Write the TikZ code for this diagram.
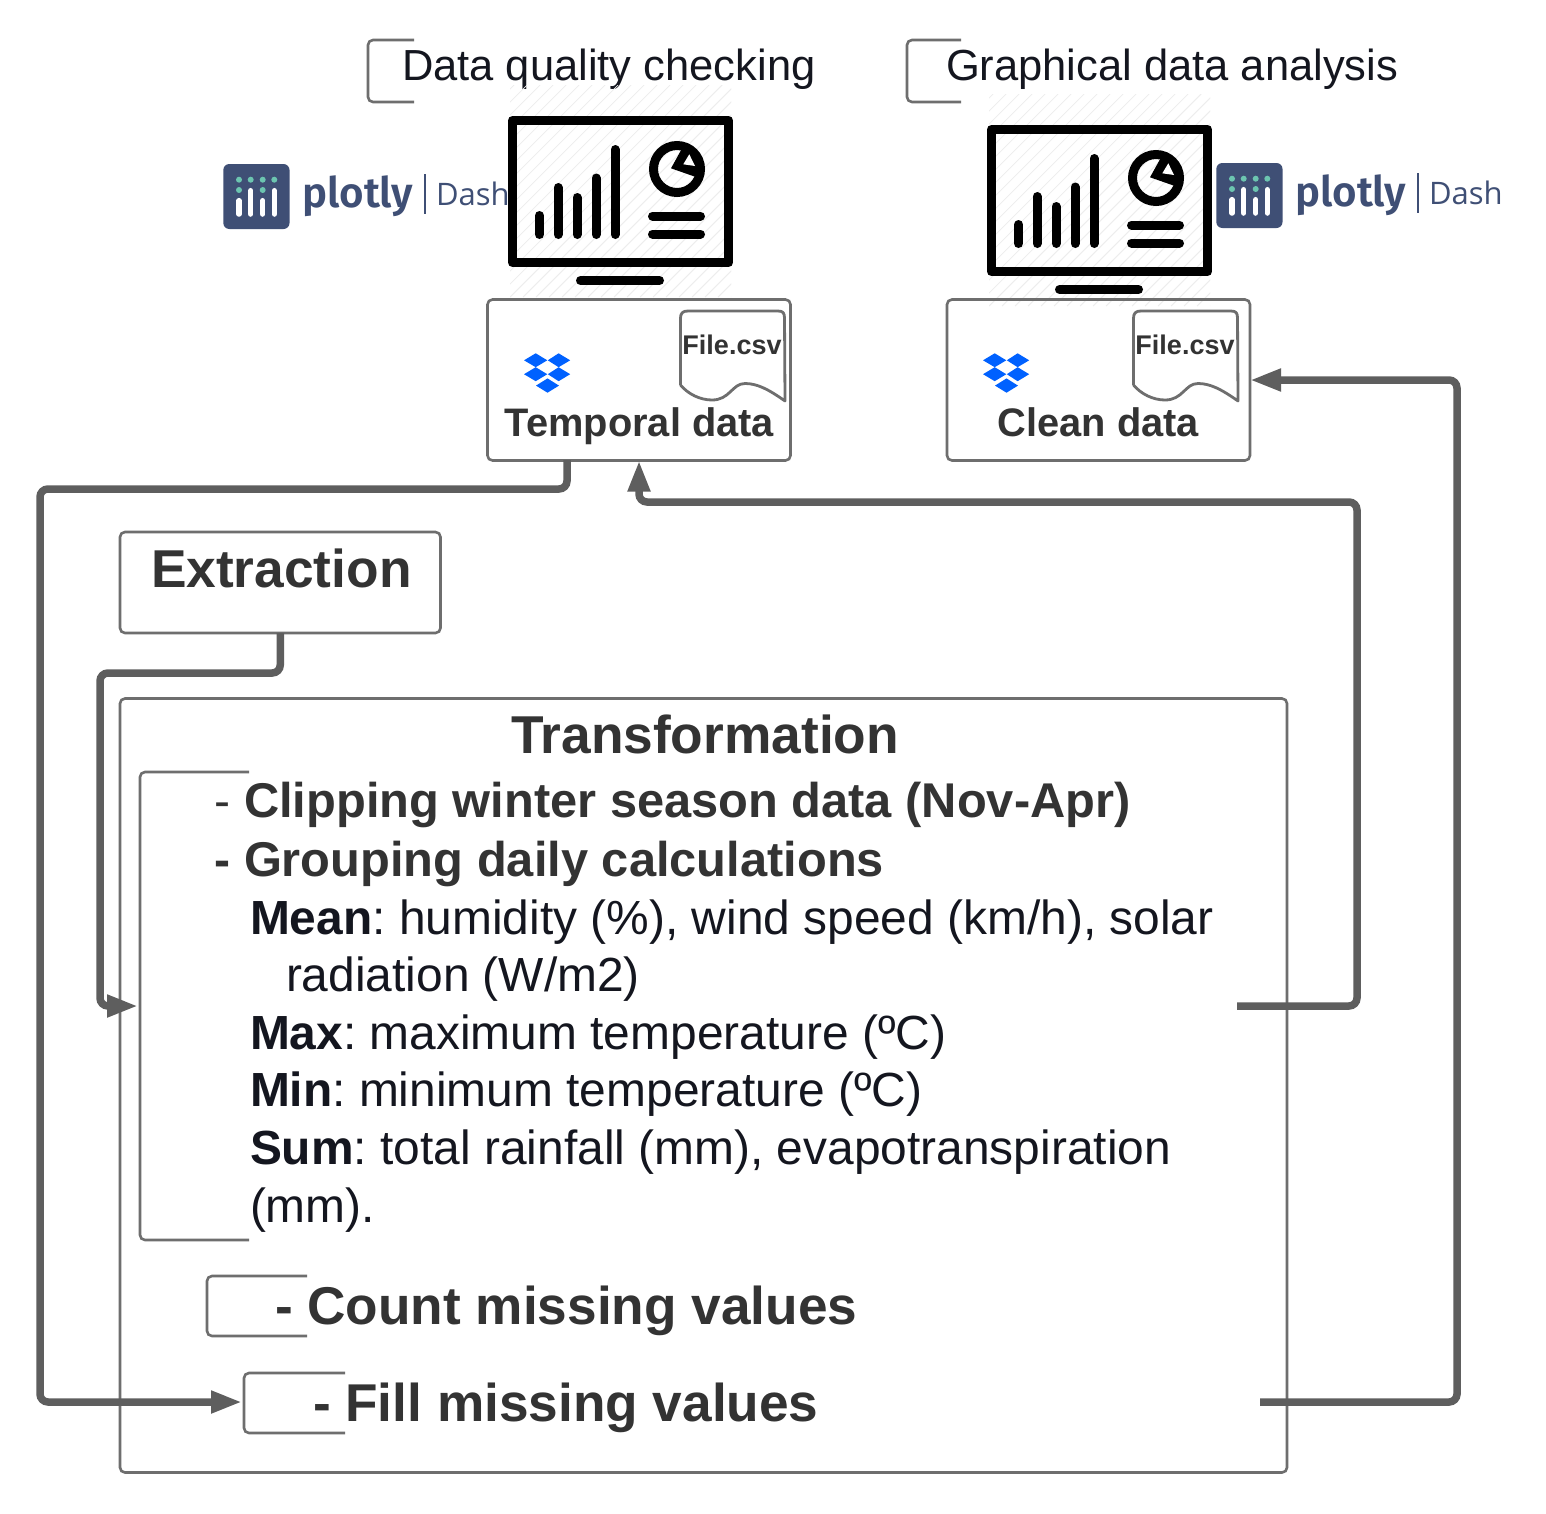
\documentclass[tikz,border=0pt]{standalone}
\usepackage{fontspec}
\setmainfont{Liberation Sans}
\newfontfamily\plotfont{Fira Sans SemiBold}
\newfontfamily\dashfont{Open Sans}
\usetikzlibrary{arrows.meta}
\definecolor{linegray}{HTML}{5E5E5E}
\definecolor{boxgray}{HTML}{6E6E6E}
\definecolor{headtxt}{HTML}{333333}
\definecolor{bodytxt}{HTML}{14161F}
\definecolor{plotblue}{HTML}{3F4F75}
\definecolor{plotgreen}{HTML}{6CC5B0}
\definecolor{dropblue}{HTML}{0061FF}
\newcommand{\fsz}[1]{\fontsize{#1}{#1}\selectfont\frenchspacing}
\tikzset{
  x=1pt,y=-1pt,
  boxnode/.style={draw=boxgray,line width=2.6pt,rounded corners=5pt,anchor=north west,inner sep=0,outer sep=0},
  bracketline/.style={draw=boxgray,line width=2.6pt,rounded corners=5pt},
  conn/.style={draw=linegray,line width=7.5pt,rounded corners=8pt},
  connarrow/.style={conn,-{Triangle[length=31pt,width=21pt]}},
  txt/.style={anchor=base west,inner sep=0,outer sep=0},
  ctxt/.style={anchor=base,inner sep=0,outer sep=0},
  titletxt/.style={txt,text=bodytxt,font=\fsz{43.5}},
  headtext/.style={txt,text=headtxt,font=\bfseries\fsz{53.3}},
  itemtext/.style={txt,text=headtxt,font=\bfseries\fsz{48.8}},
  lowertext/.style={txt,text=headtxt,font=\bfseries\fsz{53.2}},
  bodytext/.style={txt,text=bodytxt,font=\fsz{47.9}},
  datatext/.style={ctxt,text=headtxt,font=\bfseries\fsz{39.8}},
  filetext/.style={ctxt,text=headtxt,font=\bfseries\fsz{27}},
  barline/.style={black,line width=9pt,line cap=round},
}
\newcommand{\monitor}[2]{%
\begin{scope}[shift={(#1,#2)}]
  \begin{scope}
    \clip (510,85) rectangle (731,297);
    \foreach \k in {0,13,...,440}{\draw[black!7,line width=.7pt] (510+\k,297) -- (510+\k+212,85);\draw[black!7,line width=.7pt] (510+\k-221,297) -- (510+\k-221+212,85);}
  \end{scope}
  \draw[black,line width=9pt,line join=round] (512.5,120.5) rectangle (728.5,262.5);
  \draw[black,line width=9pt,line cap=round] (580.5,280.5) -- (659.5,280.5);
  \draw[barline] (539.5,215.5) -- (539.5,234.5);
  \draw[barline] (558,187.5) -- (558,234.5);
  \draw[barline] (577,197.5) -- (577,234.5);
  \draw[barline] (596,178) -- (596,234.5);
  \draw[barline] (615,149.5) -- (615,234.5);
  \draw[black,line width=9pt] (677,169) circle (23.5);
  \fill[black] (671,168.3) -- (681.7,149) -- (697,152) -- (700,177) -- (695,176.7) -- cycle;
  \fill[white] (689.3,154.3) -- (695,166) -- (683.3,164.3) -- cycle;
  \draw[barline] (652.5,216) -- (700.5,216);
  \draw[barline] (652.5,234) -- (700.5,234);
\end{scope}}
\newcommand{\filedoc}[1]{%
\begin{scope}[shift={(#1,0)}]
  \draw[boxgray,line width=2.8pt,line join=round] (680.5,385) -- (680.5,318) .. controls (680.5,313) and (683,311) .. (688,311) -- (778,311) .. controls (783,311) and (784.5,313) .. (784.5,318) -- (785,401)
   .. controls (768,389) and (757,383.5) .. (745,383.5) .. controls (732,383.5) and (730,400) .. (712,400) .. controls (700,400) and (688,394) .. (680.5,385);
\end{scope}}
\newcommand{\dropbox}[1]{%
\begin{scope}[shift={(#1,0)}]
  \fill[dropblue] (535.7,353.3) -- (547.3,360.3) -- (535.7,367.2) -- (524,360.3) -- cycle;
  \fill[dropblue] (558.6,353.3) -- (570.2,360.3) -- (558.6,367.2) -- (547.8,360.3) -- cycle;
  \fill[dropblue] (535.7,367.2) -- (547.3,374.2) -- (535.7,381.2) -- (524,374.2) -- cycle;
  \fill[dropblue] (558.6,367.2) -- (570.2,374.2) -- (558.6,381.2) -- (547.8,374.2) -- cycle;
  \fill[dropblue] (547.5,378.4) -- (559,385.6) -- (547.5,392.7) -- (536,385.6) -- cycle;
\end{scope}}
\newcommand{\plotlylogo}[3]{%
\begin{scope}[shift={(#1,#2)}]
  \fill[plotblue,rounded corners=6pt] (223.3,164) rectangle (289.5,229);
  \foreach \px in {239,250.7,262.7,274.3}{\fill[plotgreen] (\px,179.7) circle (3);}
  \foreach \px in {239,262.7}{\fill[plotgreen] (\px,190) circle (3);}
  \foreach \px/\py in {239/200.7,250.7/190.7,262.7/200.7,274.3/190.7}{\draw[white,line width=5.5pt,line cap=round] (\px,\py) -- (\px,214);}
  \node[txt,text=plotblue,font=\plotfont\fsz{42}] (#3p) at (302.5,207) {plotly};
  \draw[plotblue,line width=1.8pt] (425,174) -- (425,214);
  \node[txt,text=plotblue,font=\dashfont\fsz{31}] (#3d) at (436,205) {Dash};
\end{scope}}
\begin{document}
\begin{tikzpicture}
\useasboundingbox (0,0) rectangle (1546,1513);
\fill[white] (0,0) rectangle (1546,1513);

% top titles and brackets
\draw[bracketline] (414,40) -- (368,40) -- (368,102) -- (414,102);
\draw[bracketline] (961,40) -- (907,40) -- (907,102) -- (961,102);
\node[titletxt] (dq) at (402,80.5) {Data quality checking};
\node[titletxt] (ga) at (946,80.5) {Graphical data analysis};

% monitors and logos
\monitor{0}{0}
\monitor{479}{9}
\plotlylogo{0}{0}{a}
\plotlylogo{993}{-1}{b}

% data boxes
\node[boxnode,minimum width=303pt,minimum height=161pt] (temporal) at (487.5,299.5) {};
\node[boxnode,minimum width=303pt,minimum height=161pt] (clean) at (947,299.5) {};
\filedoc{0}
\filedoc{453}
\dropbox{0}
\dropbox{459}
\node[filetext] (f1) at (732,354.5) {File.csv};
\node[filetext] (f2) at (1185,354.5) {File.csv};
\node[datatext] (tlabel) at (639.5,436.5) {Temporal data};
\node[datatext] (clabel) at (1098.5,436.5) {Clean data};

% extraction and transformation
\node[boxnode,minimum width=320.5pt,minimum height=101pt] (extr) at (120,532) {};
\node[headtext] (extrl) at (151,587.5) {Extraction};
\node[boxnode,minimum width=1167pt,minimum height=774pt] (trans) at (120,698.5) {};
\node[headtext] (transl) at (511,753.5) {Transformation};

% inner brackets
\draw[bracketline] (249,772) -- (140,772) -- (140,1240) -- (249,1240);
\draw[bracketline] (307,1276) -- (207,1276) -- (207,1336) -- (307,1336);
\draw[bracketline] (345,1373) -- (244,1373) -- (244,1433) -- (345,1433);

% texts
\node[txt,text=headtxt,font=\fsz{48}] (d1) at (214,817) {-};
\node[itemtext] (i1) at (244,817) {Clipping winter season data (Nov-Apr)};
\node[txt,text=headtxt,font=\bfseries\fsz{48}] (d2) at (214,876) {-};
\node[itemtext] (i2) at (244,876) {Grouping daily calculations};
\node[bodytext] (b1) at (250,934) {\textbf{Mean}: humidity (\%), wind speed (km/h), solar};
\node[bodytext] (b2) at (286,991) {radiation (W/m2)};
\node[bodytext] (b3) at (250,1049) {\textbf{Max}: maximum temperature (ºC)};
\node[bodytext] (b4) at (250,1106) {\textbf{Min}: minimum temperature (ºC)};
\node[bodytext] (b5) at (250,1164) {\textbf{Sum}: total rainfall (mm), evapotranspiration};
\node[bodytext] (b6) at (250,1222) {(mm).};
\node[lowertext] (i3) at (275,1324) {- Count missing values};
\node[lowertext] (i4) at (313,1421) {- Fill missing values};

% connector anchors
\coordinate (tempout) at (567,460);
\coordinate (bigbr) at (138,1006);
\coordinate (fillbr) at (242,1402);
\coordinate (transout) at (1237,1006);
\coordinate (fillout) at (1260,1402);

\draw[connarrow] (tempout) -- (567,489) -- (40,489) -- (40,1402) -- (fillbr);
\draw[connarrow] (extr.south) -- (280.25,673) -- (100,673) -- (100,1006) -- (bigbr);
\draw[connarrow] (transout) -- (1357,1006) -- (1357,502) -- (639,502) -- (temporal.south);
\draw[connarrow] (fillout) -- (1457,1402) -- (1457,380) -- (clean.east);
\end{tikzpicture}
\end{document}
